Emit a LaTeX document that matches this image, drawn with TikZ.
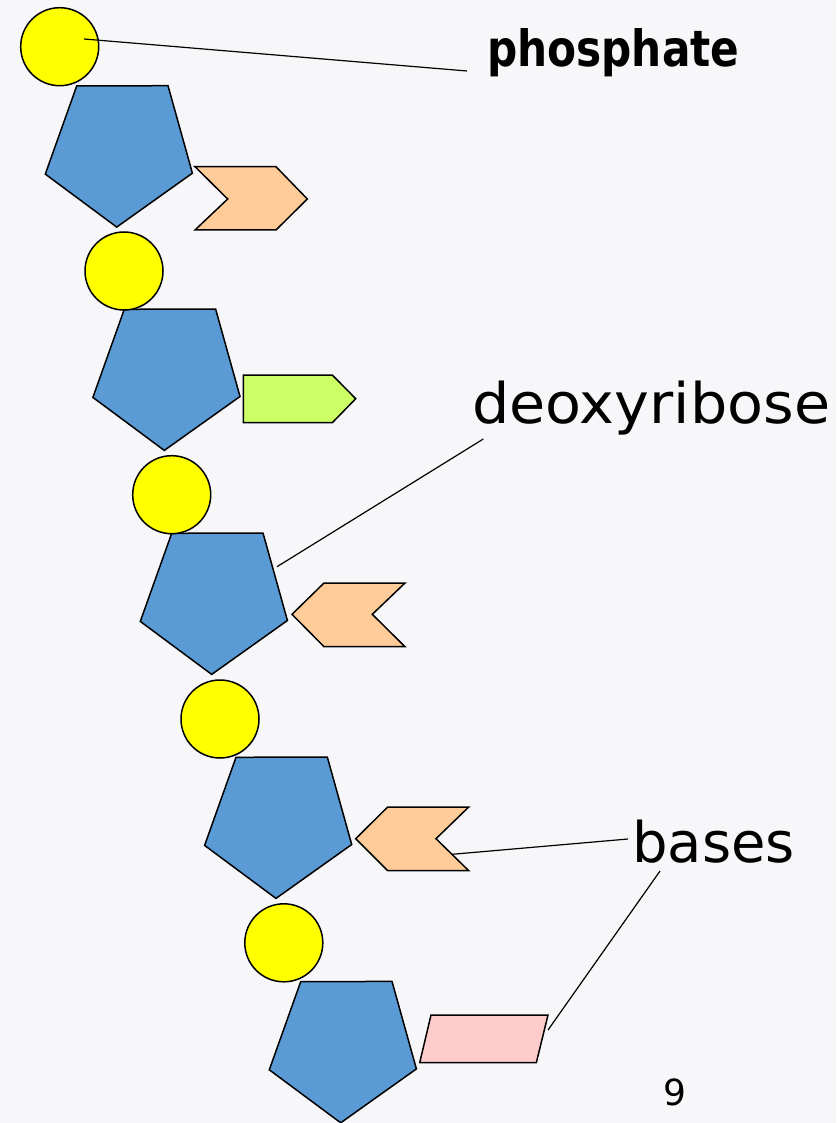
\documentclass[tikz,border=0pt]{standalone}
\usepackage{fontspec}
\setmainfont{DejaVu Sans}
\definecolor{bgcol}{RGB}{247,247,249}
\definecolor{phoscol}{RGB}{255,255,0}
\definecolor{sugarcol}{RGB}{91,155,213}
\definecolor{orangecol}{RGB}{255,204,153}
\definecolor{greencol}{RGB}{204,255,102}
\definecolor{pinkcol}{RGB}{255,204,204}
\tikzset{
  outline/.style={draw=black, line width=1.5pt, line join=miter},
  phos/.style={outline, circle, fill=phoscol, minimum size=78pt, inner sep=0pt},
  sugarstyle/.style={outline, fill=sugarcol},
  basestyle/.style={outline},
  leader/.style={draw=black, line width=1.2pt},
  labeltext/.style={inner sep=0pt, anchor=base west, text=black},
  sugar/.pic={\path[sugarstyle] (0,0) -- (91.3,-0.3) -- (115.7,87.2) -- (40,141.1) -- (-31.4,88.1) -- cycle;}
}
\begin{document}
\begin{tikzpicture}[x=1pt,y=-1pt]
\fill[bgcol] (0,0) rectangle (836,1123);
\useasboundingbox (0,0) rectangle (836,1123);

% sugars
\pic at (76.7,86) {sugar};
\pic at (124.3,309.3) {sugar};
\pic at (171.7,533.3) {sugar};
\pic at (236,757.3) {sugar};
\pic at (300.7,981.7) {sugar};

% phosphates
\node[phos] (P1) at (59.7,46.7) {};
\node[phos] (P2) at (124,271) {};
\node[phos] (P3) at (171.7,494.7) {};
\node[phos] (P4) at (220,719) {};
\node[phos] (P5) at (283.8,942.8) {};

% bases
\path[basestyle, fill=orangecol] (195,166.7) -- (276,166.7) -- (307.3,199) -- (276,230) -- (195,230) -- (227.7,199) -- cycle;
\path[basestyle, fill=greencol] (243.3,375) -- (332.3,375) -- (355.7,398.7) -- (332.3,422.7) -- (243.3,422.7) -- cycle;
\path[basestyle, fill=orangecol] (292,614.3) -- (324,583) -- (405,583) -- (372.3,614.3) -- (405,646.7) -- (324,646.7) -- cycle;
\path[basestyle, fill=orangecol] (355.7,838.7) -- (387.7,807) -- (468.7,807) -- (436,838.7) -- (468.7,870.7) -- (387.7,870.7) -- cycle;
\path[basestyle, fill=pinkcol] (431,1015) -- (548,1015) -- (536.3,1062.7) -- (419.7,1062.7) -- cycle;

% labels
\node[labeltext] (phosLab) at (487,67) {\fontsize{50}{56}\selectfont\scalebox{0.845}[1]{\bfseries phosphate}};
\node[labeltext] (deoxLab) at (472,423.3) {\fontsize{56}{62}\selectfont\scalebox{1.05}[1]{deoxyribose}};
\node[labeltext] (baseLab) at (632,862.7) {\fontsize{56}{62}\selectfont bases};
\node[inner sep=0pt, anchor=base] (pageNum) at (675,1105.7) {\fontsize{36}{40}\selectfont 9};

% leader lines
\coordinate (phosA) at (84,39);
\coordinate (phosB) at (467,71);
\coordinate (deoxA) at (277,566.7);
\coordinate (deoxB) at (483.3,439);
\coordinate (baseA) at (452,854.3);
\coordinate (baseB) at (628,839);
\coordinate (baseC) at (548,1030);
\coordinate (baseD) at (660,871);
\draw[leader] (phosA) -- (phosB);
\draw[leader] (deoxA) -- (deoxB);
\draw[leader] (baseA) -- (baseB);
\draw[leader] (baseC) -- (baseD);
\end{tikzpicture}
\end{document}
